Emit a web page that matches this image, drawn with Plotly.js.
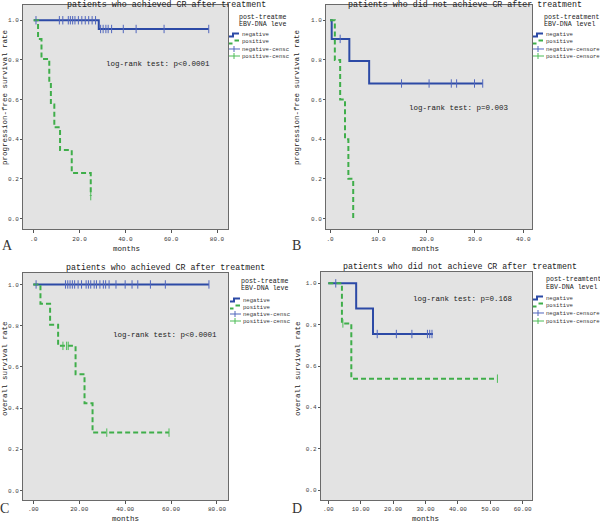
<!DOCTYPE html>
<html><head><meta charset="utf-8">
<script src="https://cdn.plot.ly/plotly-3.0.1.min.js"></script>
<style>html,body{margin:0;padding:0;background:#fff}#chart{width:600px;height:525px}</style>
</head><body><div id="chart"></div>
<script>
// ---------- DATA ----------
// Panel A: progression-free survival, patients who achieved CR
const A_negTimes = [0, 28.4, 76.4];
const A_negSurv = [1, 0.956, 0.956];
const A_negCensor = [1, 11.2, 12.7, 15.1, 16, 17, 18, 19.5, 21, 22.5, 24, 25.5, 27, 29.2, 30.3, 31.5, 32.5, 34, 39.1, 44.7, 56.9, 76.4];
const A_posTimes = [0, 1.9, 3.4, 6.8, 7.5, 9.0, 11.5, 16.6, 24.9];
const A_posSurv = [1, 0.905, 0.805, 0.69, 0.575, 0.46, 0.345, 0.23, 0.113];
const A_posCensor = [24.9];
// Panel B: progression-free survival, patients who did not achieve CR
const B_negTimes = [0, 0.35, 4.0, 8.1, 31.6];
const B_negSurv = [1, 0.906, 0.794, 0.681, 0.681];
const B_negCensor = [2.1, 14.8, 20.5, 25.1, 26.2, 29.9, 31.6];
const B_posTimes = [0, 1.0, 2.1, 3.1, 3.8, 4.8];
const B_posSurv = [1, 0.8, 0.6, 0.4, 0.2, 0.0];
const B_posCensor = [];
// Panel C: overall survival, patients who achieved CR
const C_negTimes = [0, 76.5];
const C_negSurv = [1, 1];
const C_negCensor = [1.2, 14, 15, 16, 17, 18, 19.5, 21, 23, 24, 25, 26.5, 27.5, 29, 30.5, 31.5, 33, 36, 40, 43, 45.5, 51, 57.5, 76.5];
const C_posTimes = [0, 3.1, 7.3, 10.8, 18.4, 22.3, 25.8, 59.1];
const C_posSurv = [1, 0.906, 0.805, 0.702, 0.564, 0.423, 0.281, 0.281];
const C_posCensor = [12.9, 14.5, 15.2, 32, 59.1];
// Panel D: overall survival, patients who did not achieve CR
const D_negTimes = [0, 8.6, 13.8, 32.3];
const D_negSurv = [1, 0.879, 0.755, 0.755];
const D_negCensor = [2.3, 15.1, 21.0, 25.8, 30.6, 31.3, 32.0];
const D_posTimes = [0, 4.2, 7.1, 52.2];
const D_posSurv = [1, 0.806, 0.539, 0.539];
const D_posCensor = [4.5, 52.2];

// tick labels
const yTickVals = [0, 0.2, 0.4, 0.6, 0.8, 1.0];
const yTickText = ['0.0', '0.2', '0.4', '0.6', '0.8', '1.0'];
const A_xTickVals = [0, 20, 40, 60, 80];
const A_xTickText = ['.0', '20.0', '40.0', '60.0', '80.0'];
const B_xTickVals = [0, 10, 20, 30, 40];
const B_xTickText = ['.0', '10.0', '20.0', '30.0', '40.0'];
const C_xTickVals = [0, 20, 40, 60, 80];
const C_xTickText = ['.00', '20.00', '40.00', '60.00', '80.00'];
const D_xTickVals = [0, 10, 20, 30, 40, 50, 60];
const D_xTickText = ['.00', '10.00', '20.00', '30.00', '40.00', '50.00', '60.00'];

const titles = ['patients who achieved CR after treatment', 'patients who did not achieve CR after treatment',
                'patients who achieved CR after treatment', 'patients who did not achieve CR after treatment'];
const yTitles = ['progression-free survival rate', 'progression-free survival rate', 'overall survival rate', 'overall survival rate'];
const logRank = ['log-rank test: p<0.0001', 'log-rank test: p=0.003', 'log-rank test: p<0.0001', 'log-rank test: p=0.168'];
const legendHead1 = ['post-treatme', 'post-treatment', 'post-treatme', 'post-treamtent'];
const legendHead2 = ['EBV-DNA leve', 'EBV-DNA level', 'EBV-DNA leve', 'EBV-DNA level'];
const legendItems = [
  ['negative', 'positive', 'negative-censc', 'positive-censc'],
  ['negative', 'positive', 'negative-censore', 'positive-censore'],
  ['negative', 'positive', 'negative-censc', 'positive-censc'],
  ['negative', 'positive', 'negative-censore', 'positive-censore']];
const panelLetters = ['A', 'B', 'C', 'D'];

// ---------- STYLE / LAYOUT ----------
const W = 600, H = 525;
const BLUE = '#2c4aa6', GREEN = '#3fae4a', BLUE_C = '#5066bd', GREEN_C = '#4cbc57';
const MONO = 'Liberation Mono, DejaVu Sans Mono, monospace';
const px = x => x / W, py = y => 1 - y / H;

function stepAt(times, surv, t) {
  let v = surv[0];
  for (let i = 0; i < times.length; i++) if (times[i] <= t) v = surv[i];
  return v;
}

const panels = [
  {nt: A_negTimes, ns: A_negSurv, nc: A_negCensor, pt: A_posTimes, ps: A_posSurv, pc: A_posCensor,
   tv: A_xTickVals, tt: A_xTickText, box: [23, 228, 5, 229.3], xr: [-4.67, 84.8], yr: [-0.0545, 1.077]},
  {nt: B_negTimes, ns: B_negSurv, nc: B_negCensor, pt: B_posTimes, ps: B_posSurv, pc: B_posCensor,
   tv: B_xTickVals, tt: B_xTickText, box: [326, 532.3, 5, 229.3], xr: [-0.83, 41.86], yr: [-0.0545, 1.077]},
  {nt: C_negTimes, ns: C_negSurv, nc: C_negCensor, pt: C_posTimes, ps: C_posSurv, pc: C_posCensor,
   tv: C_xTickVals, tt: C_xTickText, box: [23, 228, 272.5, 500], xr: [-4.5, 84.8], yr: [-0.046, 1.058]},
  {nt: D_negTimes, ns: D_negSurv, nc: D_negCensor, pt: D_posTimes, ps: D_posSurv, pc: D_posCensor,
   tv: D_xTickVals, tt: D_xTickText, box: [320.7, 531.7, 272, 500], xr: [-2.35, 62.78], yr: [-0.048, 1.055]}
];

// text positions (pixels)
const titlePos = [[166, 4], [465, 4], [165, 267], [460, 266]];
const monthsPos = [[126, 249], [425, 249], [125, 519], [425, 519]];
const yTitlePos = [[5, 98], [297, 98], [5, 369], [298, 369]];
const logRankPos = [[158, 64], [459, 108], [165, 335], [463, 299]];
const letterPos = [[7, 245], [296, 245], [4, 508], [297, 508]];
const legendPos = [ // iconX, headX, headY, entry y's
  {ix: 229, hx: 237, hy: 17, ey: [35, 42, 49, 56]},
  {ix: 533, hx: 542, hy: 17, ey: [35, 42, 49, 56]},
  {ix: 230, hx: 239, hy: 281, ey: [300, 307, 314, 321]},
  {ix: 533, hx: 544, hy: 279.5, ey: [298, 305, 313, 321]}];

const traces = [];
const layout = {
  width: W, height: H, margin: {l: 0, r: 0, t: 0, b: 0},
  paper_bgcolor: '#ffffff', plot_bgcolor: '#e3e3e3', showlegend: false,
  annotations: [], shapes: []
};

panels.forEach((p, k) => {
  const sfx = k === 0 ? '' : String(k + 1);
  const xa = 'x' + sfx, ya = 'y' + sfx;
  traces.push({x: p.nt, y: p.ns, xaxis: xa, yaxis: ya, type: 'scatter', mode: 'lines',
    line: {color: BLUE, width: 2, shape: 'hv'}, hoverinfo: 'skip'});
  traces.push({x: p.pt, y: p.ps, xaxis: xa, yaxis: ya, type: 'scatter', mode: 'lines',
    line: {color: GREEN, width: 2, shape: 'hv', dash: '5px,3px'}, hoverinfo: 'skip'});
  traces.push({x: p.nc, y: p.nc.map(t => stepAt(p.nt, p.ns, t)), xaxis: xa, yaxis: ya, type: 'scatter', mode: 'markers',
    marker: {symbol: 'line-ns-open', size: 6, color: BLUE_C, line: {color: BLUE_C, width: 1}}, hoverinfo: 'skip'});
  traces.push({x: p.pc, y: p.pc.map(t => stepAt(p.pt, p.ps, t)), xaxis: xa, yaxis: ya, type: 'scatter', mode: 'markers',
    marker: {symbol: 'line-ns-open', size: 6, color: GREEN_C, line: {color: GREEN_C, width: 1}}, hoverinfo: 'skip'});

  const [x0, x1, y0, y1] = p.box;
  layout['xaxis' + sfx] = {domain: [px(x0), px(x1)], range: p.xr, anchor: ya,
    tickvals: p.tv, ticktext: p.tt, ticks: 'outside', ticklen: 3, tickcolor: '#555',
    showline: true, mirror: true, linecolor: '#6a6a6a', linewidth: 1, showgrid: false, zeroline: false,
    tickfont: {family: MONO, size: 6, color: '#333'}};
  layout['yaxis' + sfx] = {domain: [py(y1), py(y0)], range: p.yr, anchor: xa,
    tickvals: yTickVals, ticktext: yTickText, ticks: 'outside', ticklen: 2, tickcolor: '#555',
    showline: true, mirror: true, linecolor: '#6a6a6a', linewidth: 1, showgrid: false, zeroline: false,
    tickfont: {family: MONO, size: 6, color: '#444'}};

  const A = layout.annotations;
  const t = (text, x, y, size, anchor, extra) => A.push(Object.assign({text, x: px(x), y: py(y), xref: 'paper', yref: 'paper',
    showarrow: false, xanchor: anchor, yanchor: 'middle', font: {family: MONO, size, color: '#222'}}, extra || {}));
  t(titles[k], titlePos[k][0], titlePos[k][1], 8.3, 'center');
  t('months', monthsPos[k][0], monthsPos[k][1], 7.5, 'center');
  t(yTitles[k], yTitlePos[k][0], yTitlePos[k][1], 7.5, 'center', {textangle: -90});
  t(logRank[k], logRankPos[k][0], logRankPos[k][1], 7.5, 'center');
  A.push({text: panelLetters[k], x: px(letterPos[k][0]), y: py(letterPos[k][1]), xref: 'paper', yref: 'paper',
    showarrow: false, xanchor: 'center', yanchor: 'middle', font: {family: 'Liberation Serif, serif', size: 14, color: '#333'}});

  const L = legendPos[k];
  t(legendHead1[k], L.hx, L.hy, 6.6, 'left');
  t(legendHead2[k], L.hx, L.hy + 7.5, 6.6, 'left');
  legendItems[k].forEach((s, i) => t(s, L.ix + 11, L.ey[i], 5.6, 'left', {font: {family: MONO, size: 5.6, color: '#333'}}));

  const path = pts => pts.map((q, i) => (i ? 'L' : 'M') + px(q[0]).toFixed(5) + ',' + py(q[1]).toFixed(5)).join(' ');
  const S = layout.shapes;
  const ix = L.ix, e = L.ey;
  S.push({type: 'path', xref: 'paper', yref: 'paper', path: path([[ix, e[0] + 1.5], [ix + 4, e[0] + 1.5], [ix + 4, e[0] - 1.5], [ix + 10, e[0] - 1.5]]),
    line: {color: BLUE, width: 2}});
  S.push({type: 'path', xref: 'paper', yref: 'paper', path: path([[ix, e[1] + 1.5], [ix + 3.5, e[1] + 1.5]]), line: {color: GREEN, width: 2}});
  S.push({type: 'path', xref: 'paper', yref: 'paper', path: path([[ix + 5.5, e[1] - 1.5], [ix + 10, e[1] - 1.5]]), line: {color: GREEN, width: 2}});
  [[2, BLUE_C], [3, GREEN_C]].forEach(([j, c]) => {
    S.push({type: 'path', xref: 'paper', yref: 'paper', path: path([[ix, e[j]], [ix + 11, e[j]]]), line: {color: c, width: 1}});
    S.push({type: 'path', xref: 'paper', yref: 'paper', path: path([[ix + 5, e[j] - 3], [ix + 5, e[j] + 3]]), line: {color: c, width: 1}});
  });
});

Plotly.newPlot('chart', traces, layout, {staticPlot: true, displayModeBar: false});
</script>
</body></html>
